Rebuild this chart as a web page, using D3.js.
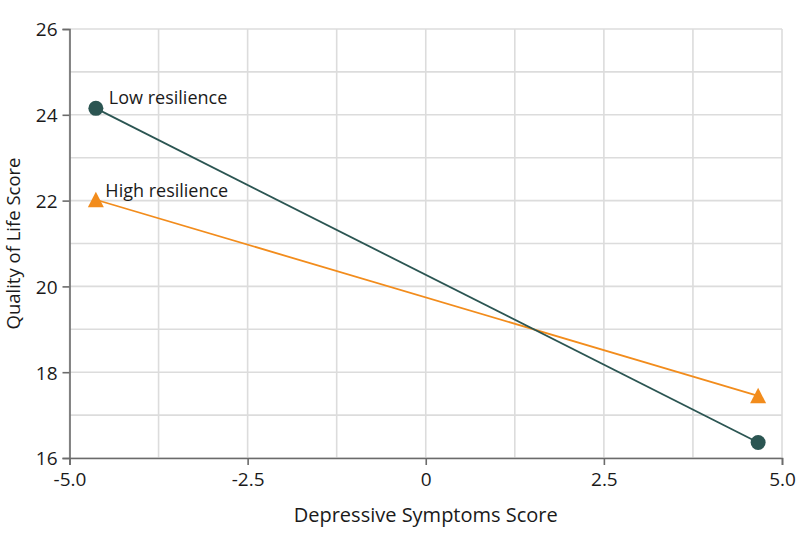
<!DOCTYPE html>
<html><head><meta charset="utf-8">
<script src="https://cdn.jsdelivr.net/npm/d3@7"></script>
<style>body{margin:0;background:#fff}svg{display:block}text{font-family:"Open Sans",sans-serif;fill:#1a1a1a}</style>
</head><body><svg id="c" width="798" height="543"></svg>
<script>
const seriesNames = ["Low resilience", "High resilience"];
const xValues = [-4.63, 4.665];
const lowValues = [24.15, 16.36];
const highValues = [22.02, 17.45];
const xTicks = [-5.0, -2.5, 0, 2.5, 5.0];
const xTickLabels = ["-5.0", "-2.5", "0", "2.5", "5.0"];
const yTicks = [16, 18, 20, 22, 24, 26];
const xGrid = [-5, -3.75, -2.5, -1.25, 0, 1.25, 2.5, 3.75, 5];
const yGrid = [16, 17, 18, 19, 20, 21, 22, 23, 24, 25, 26];

const svg = d3.select("#c");
const x = d3.scaleLinear().domain([-5, 5]).range([69.5, 782]);
const y = d3.scaleLinear().domain([16, 26]).range([458, 29]);

const g = svg.append("g");
g.selectAll(".vg").data(xGrid).join("line")
  .attr("x1", d => x(d)).attr("x2", d => x(d)).attr("y1", y(16)).attr("y2", y(26))
  .attr("stroke", "#dcdcdc").attr("stroke-width", 1.6);
g.selectAll(".hg").data(yGrid).join("line")
  .attr("x1", x(-5)).attr("x2", x(5)).attr("y1", d => y(d)).attr("y2", d => y(d))
  .attr("stroke", "#dcdcdc").attr("stroke-width", 1.6);

const xAxis = svg.append("g").attr("transform", `translate(0,${y(16)})`)
  .call(d3.axisBottom(x).tickValues(xTicks).tickFormat((d, i) => xTickLabels[i]).tickSizeOuter(0).tickSize(7).tickPadding(8));
const yAxis = svg.append("g").attr("transform", `translate(${x(-5)},0)`)
  .call(d3.axisLeft(y).tickValues(yTicks).tickFormat(d3.format("d")).tickSizeOuter(0).tickSize(7).tickPadding(5));
[xAxis, yAxis].forEach(a => {
  a.select(".domain").attr("stroke", "#6b6b6b").attr("stroke-width", 1.6);
  a.selectAll(".tick line").attr("stroke", "#6b6b6b").attr("stroke-width", 1.6);
  a.selectAll(".tick text").style("font-size", "19px").attr("fill", "#1a1a1a").style("font-family", "'Open Sans',sans-serif");
});
yAxis.selectAll(".tick text").attr("dy", "0.36em");

const line = d3.line().x((d, i) => x(xValues[i])).y(d => y(d));
const colLow = "#2b5552", colHigh = "#f28c1c";
svg.append("path").attr("d", line(highValues)).attr("fill", "none").attr("stroke", colHigh).attr("stroke-width", 1.8);
svg.append("path").attr("d", line(lowValues)).attr("fill", "none").attr("stroke", colLow).attr("stroke-width", 1.8);

svg.selectAll(".lowpt").data(lowValues).join("circle")
  .attr("cx", (d, i) => x(xValues[i])).attr("cy", d => y(d)).attr("r", 7.5).attr("fill", colLow);
const triPath = "M0,-8L8,7.5L-8,7.5Z";
svg.selectAll(".highpt").data(highValues).join("path")
  .attr("d", triPath).attr("transform", (d, i) => `translate(${x(xValues[i])},${y(d)})`).attr("fill", colHigh);

svg.append("text").attr("x", x(xValues[0]) + 13).attr("y", y(lowValues[0]) - 4)
  .style("font-size", "18px").text(seriesNames[0]);
svg.append("text").attr("x", x(xValues[0]) + 9.5).attr("y", 197)
  .style("font-size", "18px").text(seriesNames[1]);

svg.append("text").attr("x", (x(-5) + x(5)) / 2).attr("y", 522).attr("text-anchor", "middle")
  .style("font-size", "20px").text("Depressive Symptoms Score");
svg.append("text").attr("transform", `translate(20,${(y(16) + y(26)) / 2}) rotate(-90)`).attr("text-anchor", "middle")
  .style("font-size", "18.5px").text("Quality of Life Score");
</script></body></html>
